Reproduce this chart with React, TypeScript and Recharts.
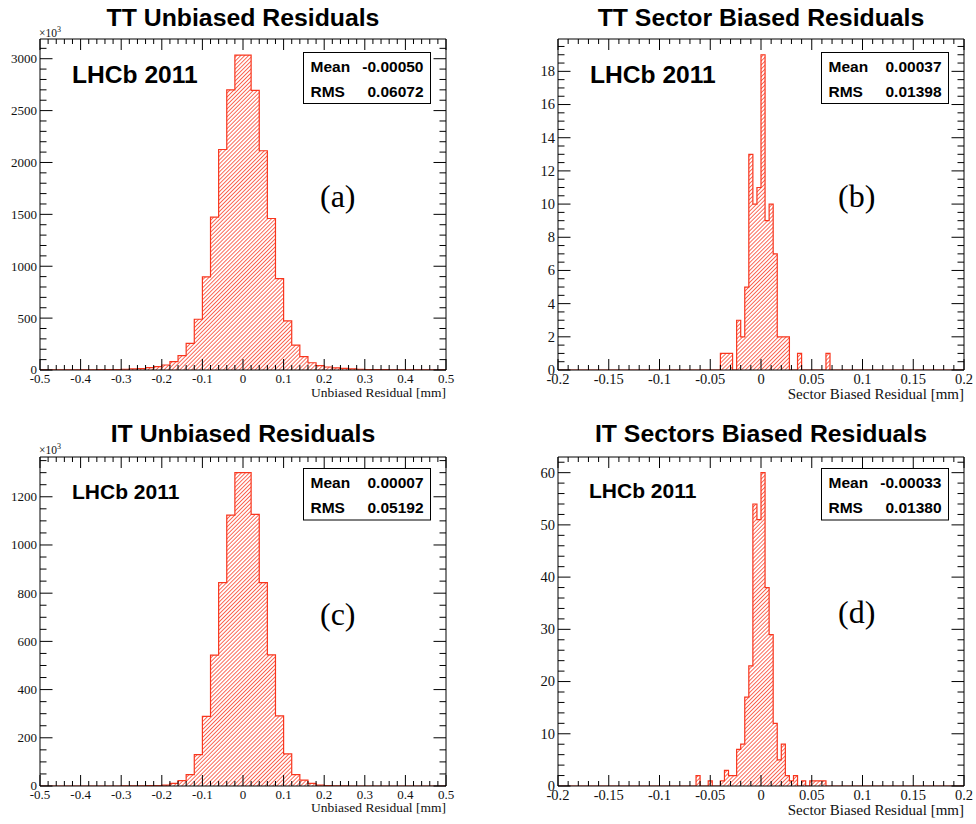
import React from 'react'
import { AreaChart, Area, XAxis, YAxis, ReferenceArea } from 'recharts'

const RED = '#f8361e'
const SANS = '"Liberation Sans", Arial, Helvetica, sans-serif'
const SERIF = '"Liberation Serif", "Times New Roman", serif'

// unbiased residuals: 50 bins of 0.02 mm from -0.5 to 0.5, entries in units of 10^3
const ttUnbiasedCounts = [
  1, 1, 1, 1, 2, 2, 2, 3, 4, 5,
  7, 10, 14, 22, 32, 48, 80, 138, 257, 489,
  897, 1473, 2125, 2700, 3035, 3035, 2695, 2113, 1460, 881,
  473, 240, 128, 70, 42, 29, 21, 15, 11, 7,
  5, 4, 3, 2, 2, 2, 1, 1, 1, 1,
]
const itUnbiasedCounts = [
  0, 0, 0, 0, 0, 0, 0, 0, 0, 0,
  1, 1, 1, 2, 2, 4, 11, 22, 47, 130,
  289, 543, 844, 1124, 1300, 1300, 1127, 844, 544, 291,
  133, 47, 24, 11, 4, 2, 1, 1, 0, 0,
  0, 0, 0, 0, 0, 0, 0, 0, 0, 0,
]

// sector biased residuals: 0.004 mm bins, only the filled window is listed
const ttSectorStart = -0.04
const ttSectorCounts = [1, 1, 1, 0, 3, 2, 5, 13, 10, 11, 19, 9, 10, 7, 2, 2, 2, 0, 0, 1, 0, 0, 0, 0, 0, 0, 1]
const itSectorStart = -0.064
const itSectorCounts = [
  2, 0, 0, 1, 0, 0, 1, 3, 2, 2, 7, 8, 17, 23, 54, 51, 60, 38, 29, 12,
  5, 8, 2, 1, 2, 0, 1, 0, 1, 1, 1, 1,
]

const unbiasedXMajor = [-0.5, -0.4, -0.3, -0.2, -0.1, 0, 0.1, 0.2, 0.3, 0.4, 0.5]
const sectorXMajor = [-0.2, -0.15, -0.1, -0.05, 0, 0.05, 0.1, 0.15, 0.2]
const ttUnbiasedYMajor = [0, 500, 1000, 1500, 2000, 2500, 3000]
const ttSectorYMajor = [0, 2, 4, 6, 8, 10, 12, 14, 16, 18]
const itUnbiasedYMajor = [0, 200, 400, 600, 800, 1000, 1200]
const itSectorYMajor = [0, 10, 20, 30, 40, 50, 60]

const r6 = (v: number) => Math.round(v * 1e6) / 1e6

function buildHist(lo: number, hi: number, width: number, counts: number[], start = lo) {
  const n = Math.round((hi - lo) / width)
  const off = Math.round((start - lo) / width)
  const rows: { x: number; v: number }[] = []
  for (let k = 0; k <= n; k++) {
    const i = Math.min(k, n - 1) - off
    rows.push({ x: r6(lo + k * width), v: i >= 0 && i < counts.length ? counts[i] : 0 })
  }
  return rows
}

function withMinor(major: number[], sub: number, max: number) {
  const step = (major[1] - major[0]) / sub
  const out: number[] = []
  for (let v = major[0]; v <= max + step * 1e-3; v += step) out.push(r6(v))
  return out
}

type PanelProps = {
  id: string
  left: number
  top: number
  plotH: number
  data: { x: number; v: number }[]
  xDomain: [number, number]
  yMax: number
  xMajor: number[]
  xSub: number
  yMajor: number[]
  ySub: number
  fontSize: number
}

const W = 456
const PL = 40
const PR = 446
const PT = 10

function Panel({ id, left, top, plotH, data, xDomain, yMax, xMajor, xSub, yMajor, ySub, fontSize }: PanelProps) {
  const PB = PT + plotH
  const xMaj = new Set(xMajor.map(r6))
  const yMaj = new Set(yMajor.map(r6))
  const xTicks = withMinor(xMajor, xSub, xDomain[1])
  const yTicks = withMinor(yMajor, ySub, yMax)

  const xTick = (p: any) => {
    const v = r6(p.payload.value)
    const major = xMaj.has(v)
    const len = major ? 11 : 5
    return (
      <g>
        <line x1={p.x} x2={p.x} y1={PB} y2={PB - len} stroke="#000" strokeWidth={1} />
        <line x1={p.x} x2={p.x} y1={PT} y2={PT + len} stroke="#000" strokeWidth={1} />
        {major && (
          <text x={p.x} y={PB + fontSize - 0.5} textAnchor="middle" fontFamily={SERIF} fontSize={fontSize} fill="#111">
            {String(v)}
          </text>
        )}
      </g>
    )
  }

  const yTick = (p: any) => {
    const v = r6(p.payload.value)
    const major = yMaj.has(v)
    const len = major ? 12.5 : 6.5
    return (
      <g>
        <line x1={PL} x2={PL + len} y1={p.y} y2={p.y} stroke="#000" strokeWidth={1} />
        <line x1={PR} x2={PR - len} y1={p.y} y2={p.y} stroke="#000" strokeWidth={1} />
        {major && (
          <text x={PL - 3} y={p.y + fontSize * 0.34} textAnchor="end" fontFamily={SERIF} fontSize={fontSize} fill="#111">
            {String(v)}
          </text>
        )}
      </g>
    )
  }

  return (
    <div style={{ position: 'absolute', left, top }}>
      <AreaChart width={W} height={PT + plotH + 20} data={data} margin={{ top: PT, right: W - PR, bottom: 0, left: 0 }}>
        <defs>
          <pattern id={`hatch-${id}`} patternUnits="userSpaceOnUse" width={2.8} height={2.8} patternTransform="rotate(45)">
            <line x1={1.4} y1={0} x2={1.4} y2={2.8} stroke={RED} strokeWidth={0.75} />
          </pattern>
        </defs>
        <XAxis
          dataKey="x"
          type="number"
          domain={xDomain}
          ticks={xTicks}
          interval={0}
          height={20}
          axisLine={false}
          tickLine={false}
          tick={xTick}
          allowDataOverflow
        />
        <YAxis
          type="number"
          domain={[0, yMax]}
          ticks={yTicks}
          interval={0}
          width={PL}
          axisLine={false}
          tickLine={false}
          tick={yTick}
          allowDataOverflow
        />
        <Area
          type="stepAfter"
          dataKey="v"
          stroke={RED}
          strokeWidth={1.2}
          fill={`url(#hatch-${id})`}
          fillOpacity={1}
          dot={false}
          activeDot={false}
          isAnimationActive={false}
        />
        <ReferenceArea x1={xDomain[0]} x2={xDomain[1]} y1={0} y2={yMax} fill="none" stroke="#000" strokeWidth={1} />
      </AreaChart>
    </div>
  )
}

type NoteProps = {
  cx: number
  titleY: number
  title: string
  lhcbX: number
  lhcbY: number
  lhcbSize: number
  boxX: number
  boxY: number
  boxH: number
  mean: string
  rms: string
  letter: string
  letterY: number
  xTitle: string
  xTitleY: number
  xTitleSize: number
  exp: boolean
  expY: number
}

function Notes(n: NoteProps) {
  const plotLeft = n.cx - 203
  const plotRight = n.cx + 203
  return (
    <g>
      <text x={n.cx} y={n.titleY} textAnchor="middle" fontFamily={SANS} fontWeight="bold" fontSize={24.8}>
        {n.title}
      </text>
      <text x={n.lhcbX} y={n.lhcbY} fontFamily={SANS} fontWeight="bold" fontSize={n.lhcbSize}>
        LHCb 2011
      </text>
      <rect x={n.boxX} y={n.boxY} width={127} height={n.boxH} fill="#fff" stroke="#000" strokeWidth={1} />
      <text x={n.boxX + 7} y={n.boxY + 19.5} fontFamily={SANS} fontWeight="bold" fontSize={15.5}>Mean</text>
      <text x={n.boxX + 120} y={n.boxY + 19.5} textAnchor="end" fontFamily={SANS} fontWeight="bold" fontSize={15.5}>{n.mean}</text>
      <text x={n.boxX + 7} y={n.boxY + 44} fontFamily={SANS} fontWeight="bold" fontSize={15.5}>RMS</text>
      <text x={n.boxX + 120} y={n.boxY + 44} textAnchor="end" fontFamily={SANS} fontWeight="bold" fontSize={15.5}>{n.rms}</text>
      <text x={plotLeft + 280} y={n.letterY} fontFamily={SERIF} fontSize={32}>{n.letter}</text>
      <text x={plotRight} y={n.xTitleY} textAnchor="end" fontFamily={SERIF} fontSize={n.xTitleSize} fill="#111">
        {n.xTitle}
      </text>
      {n.exp && (
        <text x={plotLeft - 1} y={n.expY} fontFamily={SERIF} fontSize={11.5} fill="#111">
          ×10<tspan fontSize={8} dy={-5}>3</tspan>
        </text>
      )}
    </g>
  )
}

export default function App() {
  return (
    <div style={{ position: 'absolute', left: 0, top: 0, width: 976, height: 824, background: '#fff', overflow: 'hidden' }}>
      <Panel
        id="a" left={0} top={29} plotH={331}
        data={buildHist(-0.5, 0.5, 0.02, ttUnbiasedCounts)}
        xDomain={[-0.5, 0.5]} yMax={3190}
        xMajor={unbiasedXMajor} xSub={5} yMajor={ttUnbiasedYMajor} ySub={5} fontSize={13}
      />
      <Panel
        id="b" left={518} top={29} plotH={331}
        data={buildHist(-0.2, 0.2, 0.004, ttSectorCounts, ttSectorStart)}
        xDomain={[-0.2, 0.2]} yMax={19.95}
        xMajor={sectorXMajor} xSub={5} yMajor={ttSectorYMajor} ySub={4} fontSize={14.5}
      />
      <Panel
        id="c" left={0} top={447} plotH={329}
        data={buildHist(-0.5, 0.5, 0.02, itUnbiasedCounts)}
        xDomain={[-0.5, 0.5]} yMax={1365}
        xMajor={unbiasedXMajor} xSub={5} yMajor={itUnbiasedYMajor} ySub={4} fontSize={13}
      />
      <Panel
        id="d" left={518} top={447} plotH={329}
        data={buildHist(-0.2, 0.2, 0.004, itSectorCounts, itSectorStart)}
        xDomain={[-0.2, 0.2]} yMax={63}
        xMajor={sectorXMajor} xSub={5} yMajor={itSectorYMajor} ySub={5} fontSize={14.5}
      />
      <svg width={976} height={824} style={{ position: 'absolute', left: 0, top: 0, pointerEvents: 'none' }}>
        <Notes
          cx={243} titleY={26} title="TT Unbiased Residuals" lhcbX={72} lhcbY={83} lhcbSize={24.6}
          boxX={303.5} boxY={52.5} boxH={51} mean="-0.00050" rms="0.06072" letter="(a)" letterY={207}
          xTitle="Unbiased Residual [mm]" xTitleY={397} xTitleSize={13.5} exp expY={37}
        />
        <Notes
          cx={761} titleY={26} title="TT Sector Biased Residuals" lhcbX={590} lhcbY={83} lhcbSize={24.6}
          boxX={821.5} boxY={52.5} boxH={51} mean="0.00037" rms="0.01398" letter="(b)" letterY={207}
          xTitle="Sector Biased Residual [mm]" xTitleY={399} xTitleSize={15} exp={false} expY={0}
        />
        <Notes
          cx={243} titleY={442} title="IT Unbiased Residuals" lhcbX={72} lhcbY={499} lhcbSize={21}
          boxX={303.5} boxY={468.5} boxH={51.5} mean="0.00007" rms="0.05192" letter="(c)" letterY={625}
          xTitle="Unbiased Residual [mm]" xTitleY={812} xTitleSize={13.5} exp expY={454}
        />
        <Notes
          cx={761} titleY={442} title="IT Sectors Biased Residuals" lhcbX={589} lhcbY={498} lhcbSize={21}
          boxX={821.5} boxY={468.5} boxH={51.5} mean="-0.00033" rms="0.01380" letter="(d)" letterY={623}
          xTitle="Sector Biased Residual [mm]" xTitleY={815} xTitleSize={15} exp={false} expY={0}
        />
      </svg>
    </div>
  )
}
